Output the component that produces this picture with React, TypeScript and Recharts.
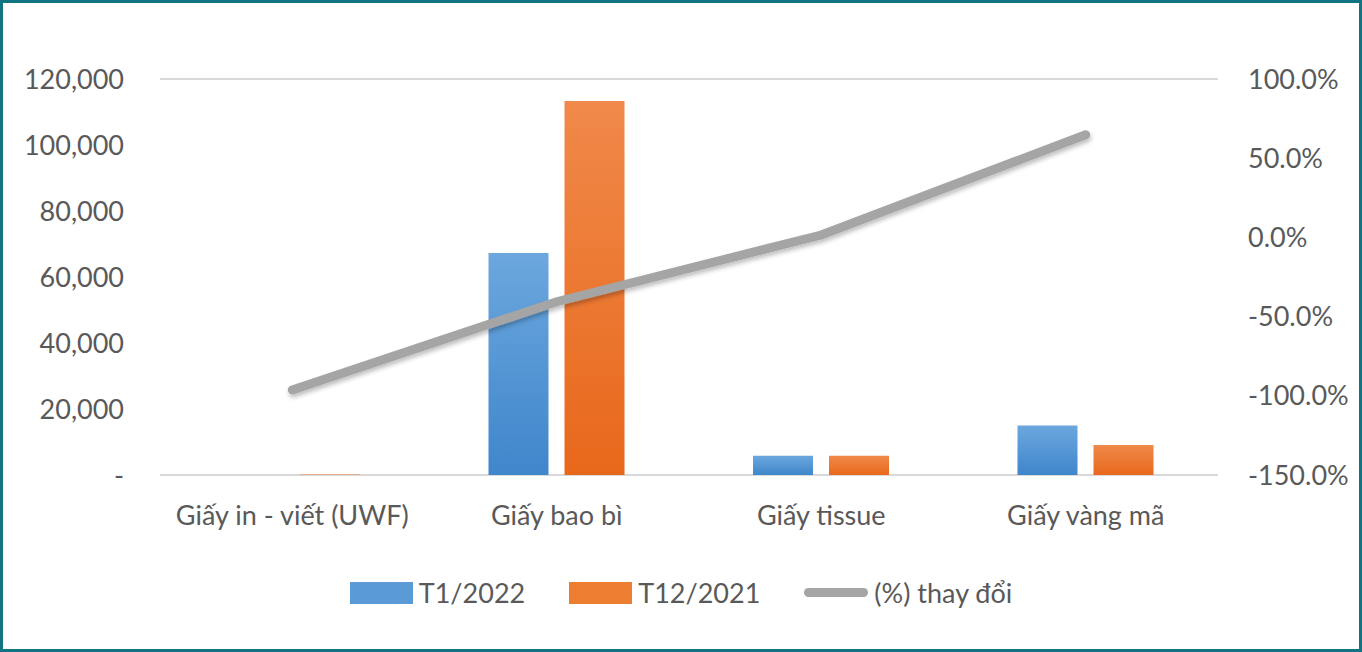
import React from 'react';
import { ComposedChart, Bar, Line, XAxis, YAxis, CartesianGrid, Legend } from 'recharts';

const categories = ['Giấy in - viết (UWF)', 'Giấy bao bì', 'Giấy tissue', 'Giấy vàng mã'];
const t1_2022 = [10, 67300, 5800, 15000];
const t12_2021 = [120, 113300, 5800, 9100];
const pctChange = [-96.3, -40.6, 1.5, 64.8];

const leftTicks = [0, 20000, 40000, 60000, 80000, 100000, 120000];
const rightTicks = [-150, -100, -50, 0, 50, 100];

const data = categories.map((name, i) => ({
  name,
  t1: t1_2022[i],
  t12: t12_2021[i],
  pct: pctChange[i],
}));

const FONT = 'Lato, "Open Sans", sans-serif';
const TEXT = '#595959';
const FS = 27;

function LegendContent() {
  const items = [
    { label: 'T1/2022', kind: 'bar', color: '#5b9bd5' },
    { label: 'T12/2021', kind: 'bar', color: '#ed7d31' },
    { label: '(%) thay đổi', kind: 'line', color: '#a5a5a5' },
  ];
  return (
    <div style={{ display: 'flex', justifyContent: 'center', gap: 44, fontFamily: FONT, fontSize: FS, color: TEXT }}>
      {items.map((it) => (
        <div key={it.label} style={{ display: 'flex', alignItems: 'center', gap: 6 }}>
          {it.kind === 'bar' ? (
            <div style={{ width: 63, height: 22, background: it.color }} />
          ) : (
            <div style={{ width: 64, height: 9, borderRadius: 5, background: it.color }} />
          )}
          <span>{it.label}</span>
        </div>
      ))}
    </div>
  );
}

export default function App() {
  return (
    <div style={{ position: 'absolute', left: 0, top: 0, width: 1362, height: 652, background: '#fff' }}>
      <ComposedChart
        width={1362}
        height={652}
        data={data}
        margin={{ top: 79, right: 0, bottom: 0, left: 0 }}
        barSize={60}
        barGap={16}
      >
        <defs>
          <linearGradient id="gBlue" x1="0" y1="0" x2="0" y2="1">
            <stop offset="0%" stopColor="#6ca7de" />
            <stop offset="100%" stopColor="#3f86cb" />
          </linearGradient>
          <linearGradient id="gOrange" x1="0" y1="0" x2="0" y2="1">
            <stop offset="0%" stopColor="#f0894a" />
            <stop offset="100%" stopColor="#e8681b" />
          </linearGradient>
          <filter id="lineShadow" x="-10%" y="-10%" width="120%" height="140%">
            <feDropShadow dx="1" dy="3" stdDeviation="2" floodColor="#000" floodOpacity="0.25" />
          </filter>
        </defs>
        <CartesianGrid vertical={false} stroke="#d9d9d9" strokeWidth={2} />
        <XAxis
          dataKey="name"
          axisLine={false}
          tickLine={false}
          height={70}
          tickMargin={25}
          tick={{ fill: TEXT, fontSize: FS, fontFamily: FONT }}
        />
        <YAxis
          yAxisId="left"
          width={160}
          domain={[0, 120000]}
          ticks={leftTicks}
          axisLine={false}
          tickLine={false}
          tickMargin={30}
          tick={{ fill: TEXT, fontSize: FS, fontFamily: FONT }}
          tickFormatter={(v: number) => (v === 0 ? '-' : v.toLocaleString('en-US'))}
        />
        <YAxis
          yAxisId="right"
          orientation="right"
          width={144}
          domain={[-150, 100]}
          ticks={rightTicks}
          axisLine={false}
          tickLine={false}
          tickMargin={24}
          tick={{ fill: TEXT, fontSize: FS, fontFamily: FONT }}
          tickFormatter={(v: number) => v.toFixed(1) + '%'}
        />
        <Legend verticalAlign="bottom" height={107} wrapperStyle={{ top: 576 }} content={() => <LegendContent />} />
        <Bar yAxisId="left" dataKey="t1" name="T1/2022" fill="url(#gBlue)" isAnimationActive={false} />
        <Bar yAxisId="left" dataKey="t12" name="T12/2021" fill="url(#gOrange)" isAnimationActive={false} />
        <Line
          yAxisId="right"
          dataKey="pct"
          name="(%) thay đổi"
          type="linear"
          stroke="#a5a5a5"
          strokeWidth={9}
          strokeLinecap="round"
          dot={false}
          activeDot={false}
          filter="url(#lineShadow)"
          isAnimationActive={false}
        />
      </ComposedChart>
      <div
        style={{
          position: 'absolute',
          left: 0,
          top: 0,
          width: 1362,
          height: 652,
          boxSizing: 'border-box',
          border: '3px solid #107482',
          pointerEvents: 'none',
        }}
      />
    </div>
  );
}
